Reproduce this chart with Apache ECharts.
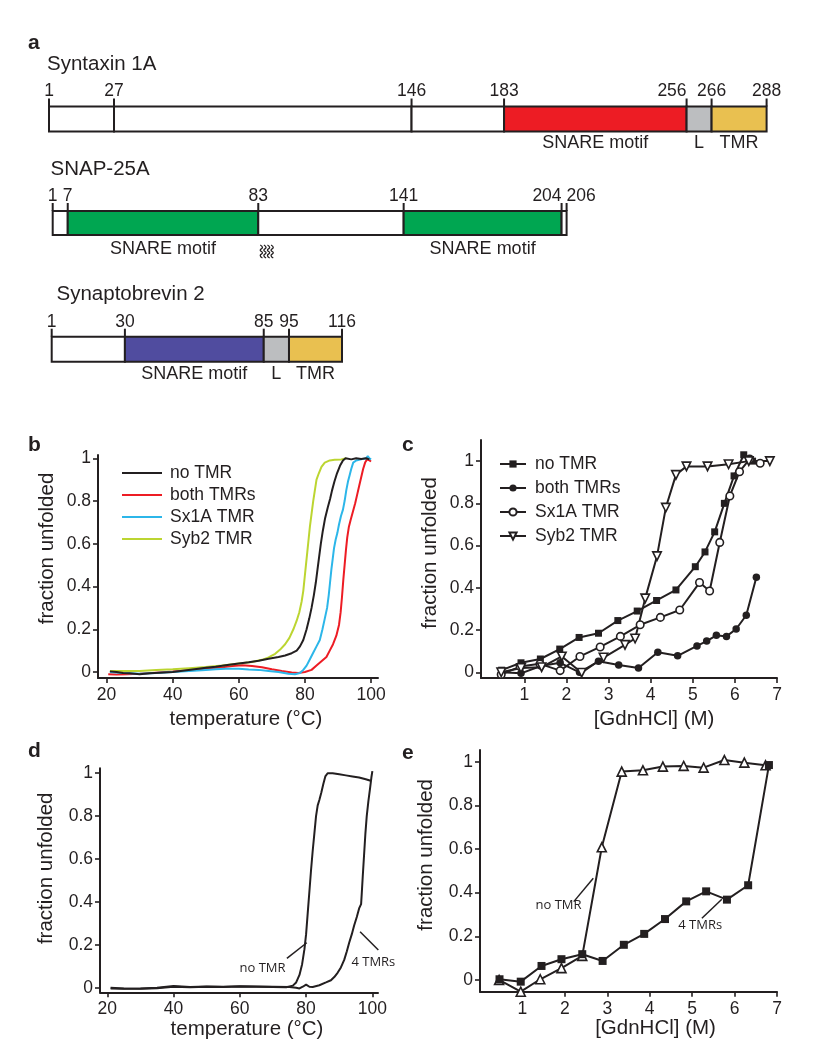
<!DOCTYPE html>
<html><head><meta charset="utf-8">
<script src="https://cdn.jsdelivr.net/npm/echarts@6/dist/echarts.min.js"></script>
<style>html,body{margin:0;padding:0;background:#fff}#c{width:816px;height:1050px}</style>
</head><body><div id="c"></div>
<script>
// ---------------- DATA ----------------
// Panel a: domain boundaries (residue numbers) and fills
const syntaxinSegments = [[1,27,'white'],[27,146,'white'],[146,183,'white'],[183,256,'red'],[256,266,'grey'],[266,288,'gold']];
const syntaxinTicks = [1,27,146,183,256,266,288];
const syntaxinLabels = [[183,256,'SNARE motif'],[256,266,'L'],[266,288,'TMR']];
const snapSegments = [[1,7,'white'],[7,83,'green'],[83,141,'white'],[141,204,'green'],[204,206,'white']];
const snapTicks = [1,7,83,141,204,206];
const snapLabels = [[7,83,'SNARE motif'],[141,204,'SNARE motif']];
const snapPalmitoyl = [83];
const sybSegments = [[1,30,'white'],[30,85,'blue'],[85,95,'grey'],[95,116,'gold']];
const sybTicks = [1,30,85,95,116];
const sybLabels = [[30,85,'SNARE motif'],[85,95,'L'],[95,116,'TMR']];

// Panel b: thermal melts (temperature °C, fraction unfolded)
const bNoTMR = [[21,0.003],[23,0.0],[25,-0.005],[27,-0.006],[30,-0.01],[33,-0.006],[36,-0.003],[40,0.0],[43,0.006],[46,0.012],[50,0.02],[53,0.025],[56,0.032],[60,0.04],[63,0.046],[66,0.053],[69,0.062],[72,0.07],[74,0.077],[76,0.088],[77.5,0.1],[78.5,0.12],[79.5,0.15],[80.5,0.2],[81.3,0.25],[82,0.3],[82.7,0.36],[83.3,0.42],[83.8,0.48],[84.3,0.54],[84.8,0.6],[85.4,0.66],[86.1,0.72],[86.9,0.77],[87.6,0.81],[88.2,0.85],[88.9,0.89],[89.7,0.93],[90.6,0.965],[91.5,0.99],[92.3,1.0],[94,0.995],[95.5,1.0],[97,0.997],[98.5,1.0],[99.5,0.995]];
const bBothTMRs = [[20.5,-0.01],[23,-0.012],[26,-0.01],[30,-0.008],[35,-0.003],[40,0.002],[45,0.008],[50,0.015],[55,0.022],[58,0.028],[61,0.032],[64,0.028],[67,0.022],[70,0.013],[73,0.005],[76,-0.002],[78,-0.005],[80,0.0],[82,0.01],[83.5,0.03],[85,0.05],[86.5,0.07],[87.5,0.1],[88.5,0.13],[89.5,0.17],[90.3,0.22],[90.8,0.28],[91.2,0.35],[91.6,0.43],[92,0.5],[92.4,0.57],[92.8,0.63],[93.3,0.68],[93.8,0.71],[94.5,0.75],[95.2,0.79],[95.8,0.83],[96.4,0.87],[97,0.91],[97.6,0.95],[98.2,0.98],[98.8,0.995],[99.5,0.99],[100,0.985]];
const bSx1ATMR = [[21,0.0],[25,-0.005],[30,-0.008],[35,-0.005],[40,0.0],[45,0.005],[50,0.01],[53,0.013],[56,0.015],[60,0.015],[63,0.012],[66,0.01],[69,0.005],[72,0.0],[75,-0.008],[77,-0.01],[78.5,-0.005],[79.5,0.01],[80.5,0.03],[81.5,0.06],[82.5,0.09],[83.5,0.12],[84.5,0.15],[85.3,0.2],[86,0.25],[86.7,0.3],[87.2,0.36],[87.6,0.42],[88,0.48],[88.4,0.53],[88.8,0.58],[89.3,0.62],[89.8,0.65],[90.3,0.69],[90.9,0.73],[91.5,0.76],[92,0.8],[92.5,0.85],[93,0.89],[93.5,0.92],[94,0.95],[94.6,0.98],[95.5,0.99],[97,0.995],[98.5,1.0],[99,1.01],[99.5,1.0],[100,0.995]];
const bSyb2TMR = [[21,0.005],[25,0.005],[30,0.005],[35,0.01],[40,0.013],[45,0.018],[50,0.023],[55,0.03],[60,0.04],[64,0.047],[67,0.057],[69,0.068],[71,0.085],[72.5,0.105],[74,0.13],[75.3,0.16],[76.5,0.2],[77.5,0.24],[78.3,0.28],[79,0.33],[79.5,0.38],[79.9,0.44],[80.3,0.5],[80.7,0.56],[81.1,0.62],[81.5,0.68],[82,0.74],[82.5,0.8],[83,0.85],[83.5,0.9],[84.2,0.93],[85,0.96],[86,0.98],[87.5,0.99],[89,0.993],[91,0.995],[92.5,1.0]];

// Panel c: chemical denaturation ([GdnHCl] M, fraction unfolded)
const cNoTMR = [[0.46,0.01],[0.92,0.045],[1.38,0.063],[1.84,0.11],[2.3,0.165],[2.76,0.185],[3.22,0.245],[3.68,0.29],[4.14,0.34],[4.6,0.39],[5.06,0.5],[5.29,0.57],[5.52,0.665],[5.75,0.8],[5.98,0.93],[6.21,1.03],[6.42,1.0]];
const cBothTMRs = [[0.46,0.0],[0.92,-0.005],[1.39,0.03],[1.85,0.045],[2.31,0.0],[2.76,0.052],[3.24,0.035],[3.71,0.02],[4.17,0.095],[4.64,0.078],[5.1,0.125],[5.33,0.148],[5.56,0.175],[5.8,0.17],[6.03,0.205],[6.27,0.27],[6.51,0.45]];
const cSx1ATMR = [[0.45,-0.01],[0.9,0.027],[1.37,0.04],[1.85,0.008],[2.32,0.075],[2.8,0.12],[3.28,0.17],[3.75,0.225],[4.23,0.26],[4.69,0.295],[5.16,0.425],[5.4,0.385],[5.64,0.615],[5.88,0.835],[6.11,0.95],[6.35,1.01],[6.6,0.99]];
const cSyb2TMR = [[0.45,0.0],[0.92,0.02],[1.41,0.024],[1.89,0.075],[2.36,-0.002],[2.88,0.07],[3.39,0.13],[3.63,0.16],[3.87,0.35],[4.15,0.55],[4.36,0.78],[4.6,0.935],[4.85,0.975],[5.35,0.975],[5.85,0.985],[6.33,1.0],[6.83,1.0]];

// Panel d: thermal melts
const dNoTMR = [[21,0.0],[25,-0.003],[30,-0.005],[35,-0.002],[40,0.005],[45,0.003],[50,0.005],[55,0.004],[60,0.006],[65,0.005],[70,0.004],[74,0.003],[76,0.01],[77,0.025],[78,0.06],[78.8,0.11],[79.5,0.18],[80,0.25],[80.5,0.35],[81,0.45],[81.5,0.55],[82,0.64],[82.5,0.72],[83,0.8],[83.5,0.85],[84,0.875],[84.6,0.91],[85.2,0.95],[85.8,0.985],[86.5,1.0],[88,1.0],[90,0.995],[92,0.99],[94,0.985],[96,0.98],[98,0.972],[99.5,0.965]];
const d4TMRs = [[21,-0.003],[25,-0.005],[30,-0.003],[35,0.0],[40,0.008],[45,0.004],[50,0.006],[55,0.005],[60,0.007],[65,0.006],[70,0.005],[75,0.004],[77,0.0],[78,-0.003],[79,0.005],[80,0.015],[81,0.005],[82,0.004],[84,0.012],[86,0.025],[87.5,0.035],[88.5,0.05],[89.5,0.07],[90.5,0.095],[91.5,0.13],[92.3,0.17],[93,0.21],[93.8,0.25],[94.5,0.29],[95.3,0.33],[96,0.37],[96.6,0.39],[96.8,0.44],[97.1,0.52],[97.5,0.62],[97.9,0.72],[98.3,0.8],[98.8,0.87],[99.3,0.93],[99.7,0.98],[100,1.01]];

// Panel e: chemical denaturation
const eNoTMR = [[0.45,0.0],[0.96,-0.054],[1.42,0.003],[1.92,0.054],[2.41,0.11],[2.87,0.608],[3.34,0.955],[3.84,0.961],[4.31,0.978],[4.8,0.981],[5.27,0.973],[5.76,1.008],[6.23,0.996],[6.73,0.984]];
const e4TMRs = [[0.46,0.003],[0.96,-0.008],[1.45,0.064],[1.92,0.095],[2.41,0.118],[2.89,0.087],[3.39,0.161],[3.87,0.211],[4.36,0.279],[4.86,0.36],[5.33,0.406],[5.82,0.368],[6.32,0.434],[6.81,0.985]];

// tick labels
const fracTicks = [0,0.2,0.4,0.6,0.8,1];
const tempTicks = [20,40,60,80,100];
const gdnTicks = [1,2,3,4,5,6,7];
const legendNames = ['no TMR','both TMRs','Sx1A TMR','Syb2 TMR'];

// ---------------- STYLE / LAYOUT ----------------
const FONT = '"Liberation Sans", Arial, Helvetica, sans-serif';
const INK = '#231f20';
const FILL = {white:'#ffffff', red:'#ed1c24', grey:'#bcbec0', gold:'#e9c050', green:'#00a651', blue:'#504c9f'};
const TRACE = {no:'#231f20', both:'#ed1c24', sx:'#2cb6e9', syb:'#bcd531'};

const chart = echarts.init(document.getElementById('c'), null, {renderer:'canvas'});

const grids = [
  {left:49, top:106.5, width:717.6, height:25},   // 0 syntaxin
  {left:52.7, top:211, width:513.9, height:24},   // 1 snap
  {left:51.7, top:336.7, width:290.3, height:25}, // 2 syb
  {left:98, top:455, width:280, height:223},      // 3 b
  {left:481, top:440, width:296, height:238},     // 4 c
  {left:100, top:768.3, width:278, height:224},   // 5 d
  {left:480, top:750, width:297, height:241.7}    // 6 e
].map(g => Object.assign({outerBoundsMode:'none', containLabel:false, show:false}, g));

const xAxes = [], yAxes = [];
function hiddenAxes(gi, xmin, xmax) {
  xAxes.push({type:'value', gridIndex:gi, min:xmin, max:xmax, show:false});
  yAxes.push({type:'value', gridIndex:gi, min:0, max:1, show:false});
}
hiddenAxes(0, 1, 288);
hiddenAxes(1, 1, 206);
hiddenAxes(2, 1, 116);

function plotAxes(gi, xr, yr, xt, yt, xname, yname, xShift, yShift, xGap, yGap) {
  const axisLine = {show:true, onZero:false, lineStyle:{color:INK, width:2}};
  const tick = (vals) => ({show:true, customValues:vals, length:5, inside:false, lineStyle:{color:INK, width:1.6}});
  const lab = (vals, m) => ({show:true, customValues:vals, margin:m, fontSize:17.5, color:INK, fontFamily:FONT, hideOverlap:false});
  xAxes.push({type:'value', gridIndex:gi, min:xr[0], max:xr[1], axisLine, axisTick:tick(xt), axisLabel:lab(xt,8),
    splitLine:{show:false}, name:xname, nameLocation:'middle', nameGap:xGap, nameMoveOverlap:false,
    nameTextStyle:{fontSize:20.5, color:INK, fontFamily:FONT, padding:[0,0,0,xShift*2]}});
  yAxes.push({type:'value', gridIndex:gi, min:yr[0], max:yr[1], axisLine, axisTick:tick(yt), axisLabel:lab(yt,7),
    splitLine:{show:false}, name:yname, nameLocation:'middle', nameGap:yGap, nameMoveOverlap:false,
    nameTextStyle:{fontSize:20.5, color:INK, fontFamily:FONT, padding:[0,0,0,yShift*2]}});
}
plotAxes(3, [17.4,102.1], [-0.028,1.0155], tempTicks, fracTicks, 'temperature (°C)', 'fraction unfolded', 8, 18, 31, 40);
plotAxes(4, [-0.03,7], [-0.027,1.1], gdnTicks, fracTicks, '[GdnHCl] (M)', 'fraction unfolded', 25, 6, 31, 40);
plotAxes(5, [17.8,101.7], [-0.021,1.023], tempTicks, fracTicks, 'temperature (°C)', 'fraction unfolded', 8, 12, 27, 43);
plotAxes(6, [0,7], [-0.054,1.054], gdnTicks, fracTicks, '[GdnHCl] (M)', 'fraction unfolded', 27, 16, 26, 43);

const series = [];

function proteinSeries(gi, segments, ticks, tickAlign, labels, labelGap) {
  series.push({type:'custom', xAxisIndex:gi, yAxisIndex:gi, clip:false, silent:true,
    data: segments.map(s => [s[0], s[1]]),
    encode:{x:[0,1], y:-1},
    renderItem:(p, api) => {
      const a = api.coord([api.value(0), 1]), b = api.coord([api.value(1), 0]);
      return {type:'rect', shape:{x:a[0], y:a[1], width:b[0]-a[0], height:b[1]-a[1]},
        style:{fill:FILL[segments[p.dataIndex][2]], stroke:INK, lineWidth:2}};
    }});
  series.push({type:'custom', xAxisIndex:gi, yAxisIndex:gi, clip:false, silent:true,
    data: ticks.map(t => [t, 1]),
    renderItem:(p, api) => {
      const a = api.coord([api.value(0), 1]);
      return {type:'group', children:[
        {type:'line', shape:{x1:a[0], y1:a[1], x2:a[0], y2:a[1]-8}, style:{stroke:INK, lineWidth:2}},
        {type:'text', x:a[0], y:a[1]-15, style:{text:String(ticks[p.dataIndex]), fontSize:17.5, fontFamily:FONT, fill:INK,
          align:tickAlign[p.dataIndex], verticalAlign:'middle'}}
      ]};
    }});
  series.push({type:'custom', xAxisIndex:gi, yAxisIndex:gi, clip:false, silent:true,
    data: labels.map(l => [l[0], l[1]]),
    renderItem:(p, api) => {
      const a = api.coord([(api.value(0)+api.value(1))/2, 0]);
      return {type:'text', x:a[0], y:a[1]+labelGap, style:{text:labels[p.dataIndex][2], fontSize:18, fontFamily:FONT, fill:INK,
        align:'center', verticalAlign:'middle'}};
    }});
}
proteinSeries(0, syntaxinSegments, syntaxinTicks, ['center','center','center','center','right','center','center'], syntaxinLabels, 12);
proteinSeries(1, snapSegments, snapTicks, ['center','center','center','center','right','left'], snapLabels, 14.5);
proteinSeries(2, sybSegments, sybTicks, ['center','center','center','center','center'], sybLabels, 12.5);

// palmitoylation squiggles
series.push({type:'custom', xAxisIndex:1, yAxisIndex:1, clip:false, silent:true,
  data: snapPalmitoyl.map(v => [v, 0]),
  renderItem:(p, api) => {
    const a = api.coord([api.value(0), 0]);
    const kids = [];
    for (let k = 0; k < 4; k++) {
      const x0 = a[0] + 2 + k*3.6, y0 = a[1] + 10;
      kids.push({type:'polyline', shape:{smooth:0.6, points:[[x0,y0],[x0+2.2,y0+2.6],[x0,y0+5.2],[x0+2.2,y0+7.8],[x0,y0+10.4],[x0+2.2,y0+13]]},
        style:{stroke:INK, lineWidth:1.3, fill:null}});
    }
    return {type:'group', children:kids};
  }});

// panel b & d traces
function trace(name, gi, data, color) {
  series.push({type:'line', name, xAxisIndex:gi, yAxisIndex:gi, data, symbol:'none', showSymbol:false,
    lineStyle:{color, width:2}, itemStyle:{color}, silent:true, z:3});
}
trace('b|both TMRs', 3, bBothTMRs, TRACE.both);
trace('b|Sx1A TMR', 3, bSx1ATMR, TRACE.sx);
trace('b|Syb2 TMR', 3, bSyb2TMR, TRACE.syb);
trace('b|no TMR', 3, bNoTMR, TRACE.no);
trace('d|no TMR', 5, dNoTMR, INK);
trace('d|4 TMRs', 5, d4TMRs, INK);

// panels c & e markers
const TRI_DOWN = 'path://M0,0 L10,0 L5,9 Z';
const TRI_UP = 'path://M5,0 L10,9 L0,9 Z';
function marked(name, gi, data, symbol, size, open) {
  series.push({type:'line', name, xAxisIndex:gi, yAxisIndex:gi, data, symbol, symbolSize:size, showSymbol:true,
    lineStyle:{color:INK, width:2}, silent:true,
    itemStyle: open ? {color:'#ffffff', borderColor:INK, borderWidth:1.6} : {color:INK, borderColor:INK, borderWidth:0}});
}
marked('c|no TMR', 4, cNoTMR, 'rect', 7, false);
marked('c|both TMRs', 4, cBothTMRs, 'circle', 7.5, false);
marked('c|Sx1A TMR', 4, cSx1ATMR, 'circle', 7.5, true);
marked('c|Syb2 TMR', 4, cSyb2TMR, TRI_DOWN, 8.5, true);
marked('e|no TMR', 6, eNoTMR, TRI_UP, 9, true);
marked('e|4 TMRs', 6, e4TMRs, 'rect', 8, false);

// annotations (data coordinates of leader lines and text)
const annotationsD = [
  {from:[74.2,0.137], to:[80.2,0.21], at:[66.85,0.09], text:'no TMR'},
  {from:[96.3,0.261], to:[101.8,0.176], at:[100.3,0.121], text:'4 TMRs'}
];
const annotationsE = [
  {from:[2.21,0.359], to:[2.67,0.466], at:[1.85,0.344], text:'no TMR'},
  {from:[5.23,0.283], to:[5.70,0.37], at:[5.19,0.252], text:'4 TMRs'}
];
function annot(gi, list) {
  series.push({type:'custom', xAxisIndex:gi, yAxisIndex:gi, clip:false, silent:true, z:5,
    data: list.map(a => [a.at[0], a.at[1]]),
    renderItem:(p, api) => {
      const a = list[p.dataIndex];
      const f = api.coord(a.from), t = api.coord(a.to), c = api.coord(a.at);
      return {type:'group', children:[
        {type:'line', shape:{x1:f[0], y1:f[1], x2:t[0], y2:t[1]}, style:{stroke:INK, lineWidth:1.5}},
        {type:'text', x:c[0], y:c[1], style:{text:a.text, fontSize:13, fontFamily:'"Open Sans", sans-serif', fill:INK, align:'center', verticalAlign:'middle'}}
      ]};
    }});
}
annot(5, annotationsD);
annot(6, annotationsE);

const legendFmt = n => n.split('|')[1];
const option = {
  backgroundColor:'#ffffff',
  animation:false,
  grid: grids, xAxis: xAxes, yAxis: yAxes, series,
  legend: [
    {left:117, top:457, orient:'vertical', itemWidth:40, itemHeight:2.2, itemGap:0, selectedMode:false,
     icon:'path://M0,0 L40,0 L40,2 L0,2 Z',
     data: legendNames.map(n => 'b|'+n), formatter: legendFmt,
     textStyle:{fontSize:17.5, lineHeight:22, fontFamily:FONT, color:INK, padding:[0,0,0,3]}},
    {left:494, top:447, orient:'vertical', itemWidth:26, itemHeight:9, itemGap:0, selectedMode:false,
     lineStyle:{width:2},
     data: legendNames.map(n => 'c|'+n), formatter: legendFmt,
     textStyle:{fontSize:17.5, lineHeight:24, fontFamily:FONT, color:INK, padding:[0,0,0,4]}}
  ],
  graphic: [
    {type:'text', left:28, top:33, style:{text:'a', fontSize:21, fontWeight:'bold', fontFamily:FONT, fill:INK}},
    {type:'text', left:28, top:435, style:{text:'b', fontSize:21, fontWeight:'bold', fontFamily:FONT, fill:INK}},
    {type:'text', left:402, top:435, style:{text:'c', fontSize:21, fontWeight:'bold', fontFamily:FONT, fill:INK}},
    {type:'text', left:28, top:741, style:{text:'d', fontSize:21, fontWeight:'bold', fontFamily:FONT, fill:INK}},
    {type:'text', left:402, top:743, style:{text:'e', fontSize:21, fontWeight:'bold', fontFamily:FONT, fill:INK}},
    {type:'text', left:47, top:54, style:{text:'Syntaxin 1A', fontSize:20.5, fontFamily:FONT, fill:INK}},
    {type:'text', left:50.5, top:159, style:{text:'SNAP-25A', fontSize:20.5, fontFamily:FONT, fill:INK}},
    {type:'text', left:56.5, top:284, style:{text:'Synaptobrevin 2', fontSize:20.5, fontFamily:FONT, fill:INK}}
  ]
};
chart.setOption(option);
</script></body></html>
